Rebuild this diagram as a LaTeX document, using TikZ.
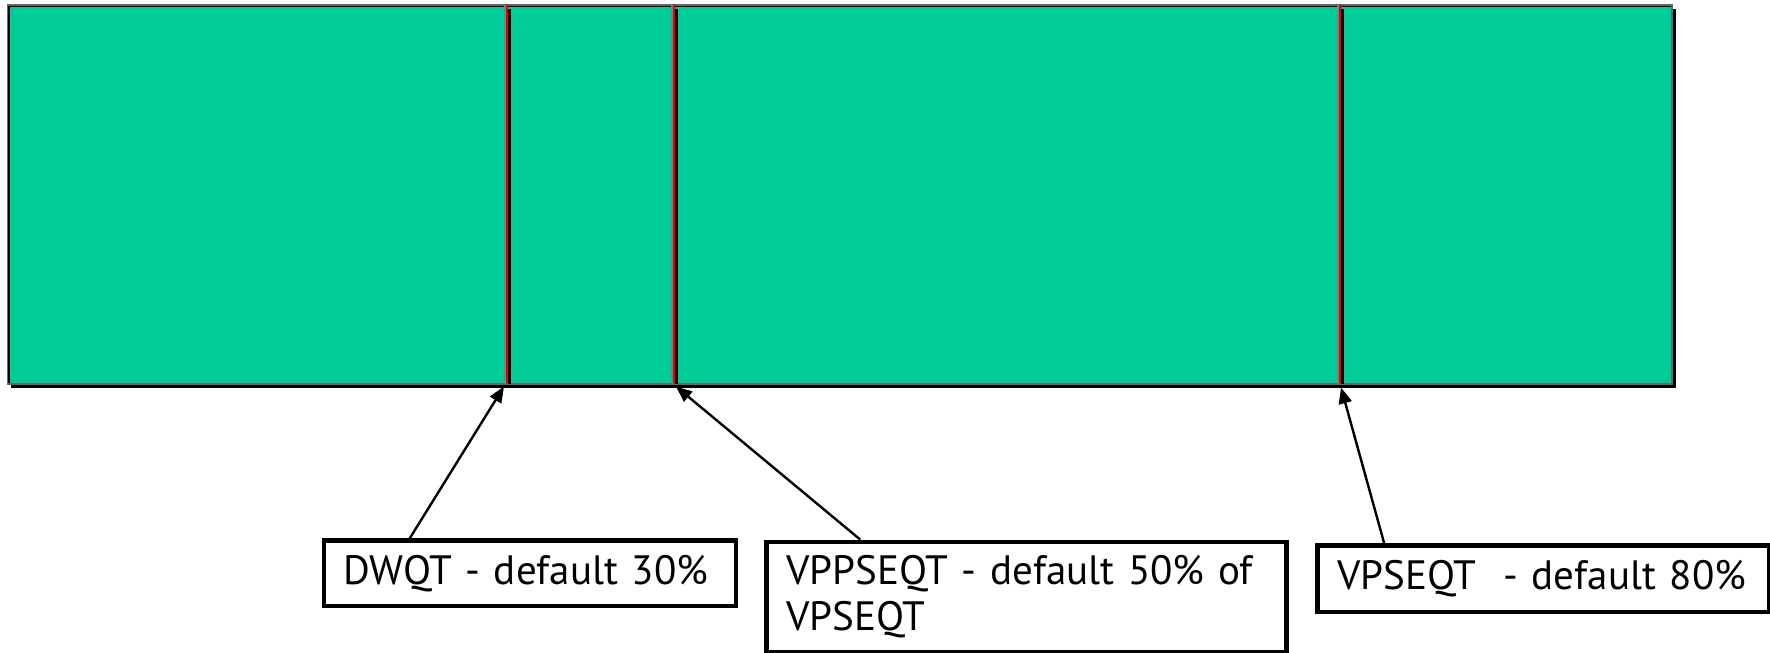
\documentclass[tikz,border=0pt]{standalone}
\usepackage{fontspec}
\setmainfont{PT Sans}
\usetikzlibrary{arrows.meta}
\definecolor{bargreen}{RGB}{0,204,153}
\definecolor{divred}{RGB}{230,0,0}
\tikzset{
  lbl/.style={draw=black, line width=4.5pt, fill=white, anchor=north west, inner xsep=20pt, inner ysep=0pt,
    align=left, font=\fontsize{41}{46}\selectfont},
  pointer/.style={line width=2.4pt, -{Triangle[length=16pt,width=13pt]}},
}
\begin{document}
\begin{tikzpicture}[x=1pt,y=-1pt]
\useasboundingbox (0,0) rectangle (1770,653);
% bar shadow and body
\fill[black] (11,9) rectangle (1676,388);
\draw[fill=bargreen, draw=black!60, line width=2pt] (7.5,5) rectangle (1671.5,383.5);
\draw[black, line width=1.2pt] (8.5,6.5) -- (1670.5,6.5);
\draw[black, line width=1.2pt] (9,6) -- (9,383);
% dividers
\foreach \x/\n in {507/1, 674/2, 1340/3}{
  \draw[black, line width=2.2pt] (\x+2.5,9) -- (\x+2.5,384);
  \draw[gray, line width=1.5pt] (\x-2,5) -- (\x-2,381);
  \draw[divred, line width=1.5pt] (\x,5) -- (\x,383);
  \coordinate (d\n) at (\x,383.5);
}
\coordinate (t1) at (504,386.5);
\coordinate (t2) at (676,386.5);
\coordinate (t3) at (1341,387.5);
% labels
\node[lbl, text width=372pt, minimum height=65.5pt] (b1) at (321.7,538.4) {DWQT - default 30\%};
\node[lbl, text width=480pt, minimum height=110.5pt] (b2) at (764.2,539.6) {VPPSEQT - default 50\% of\\VPSEQT};
\node[lbl, text width=412pt, minimum height=66.5pt] (b3) at (1315.1,543) {VPSEQT\ \ - default 80\%};
% connectors
\draw[pointer] ([xshift=88pt]b1.north west) -- (t1);
\draw[pointer] ([xshift=96pt]b2.north west) -- (t2);
\draw[pointer] ([xshift=69pt]b3.north west) -- (t3);
\end{tikzpicture}
\end{document}
